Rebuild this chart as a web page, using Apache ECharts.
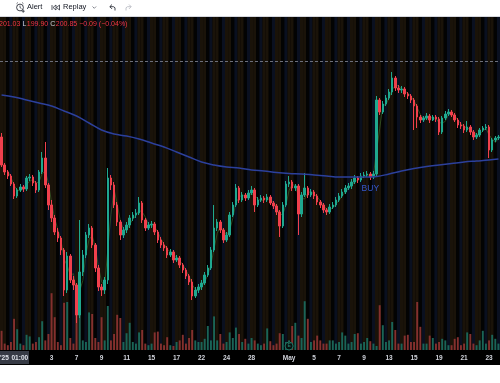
<!DOCTYPE html>
<html><head><meta charset="utf-8">
<script src="https://cdn.jsdelivr.net/npm/echarts@6/dist/echarts.min.js"></script>
<style>html,body{margin:0;padding:0;background:#fff;overflow:hidden}#c{width:500px;height:383px}</style>
</head><body><div id="c"></div><script>
// ---- data ----
const days = ['Mar 28','Mar 31','Apr 1','Apr 2','Apr 3','Apr 4','Apr 7','Apr 8','Apr 9','Apr 10',
  'Apr 11','Apr 14','Apr 15','Apr 16','Apr 17','Apr 21','Apr 22','Apr 23','Apr 24','Apr 25',
  'Apr 28','Apr 29','Apr 30','May 1','May 2','May 5','May 6','May 7','May 8','May 9',
  'May 12','May 13','May 14','May 15','May 16','May 19','May 20','May 21','May 22','May 23'];
const barHours = ['04:00','08:00','12:00','16:00'];
const barSessions = ['pre','pre','regular','post'];
const firstOpen = 196.2;
const closes = [
190.6,189.2,188.4,186.8, 184.4,185.6,186.2,185.8, 188.0,188.2,187.0,185.6, 189.2,192.0,186.6,182.6,
180.0,177.2,176.0,173.6, 165.6,172.4,167.6,166.6, 160.6,169.2,172.6,176.6, 178.0,174.6,170.0,166.2,
165.6,167.6,188.0,186.6, 182.6,179.2,176.6,177.6, 178.6,180.0,180.6,181.0, 183.0,179.6,178.0,178.6,
178.8,177.2,175.6,174.6, 174.0,172.6,173.2,171.6, 172.0,170.6,169.6,168.4, 167.2,164.4,165.6,166.2,
167.0,168.6,170.0,173.6, 178.0,179.2,177.6,175.6, 176.6,180.6,182.6,186.0, 183.6,184.6,184.0,185.0,
185.6,182.6,183.6,184.0, 183.6,184.2,183.0,182.4, 181.2,178.4,182.6,186.8, 187.2,186.0,186.4,180.8,
184.6,186.0,184.6,185.2, 184.4,183.2,182.6,181.6, 181.2,182.2,182.6,183.6, 184.4,185.2,186.0,186.4,
187.2,188.0,187.6,188.4, 188.6,188.8,188.2,188.8, 203.6,201.2,202.8,204.0, 205.2,208.0,206.0,205.6,
205.8,204.8,204.4,203.6, 202.4,200.2,199.6,200.0, 200.4,199.6,200.2,199.8, 197.2,200.0,200.8,201.2,
200.6,199.6,198.6,198.4, 197.6,198.2,197.2,196.2, 196.6,197.6,198.0,198.2, 193.6,195.6,196.0,196.2];
const highs = [
197.0,191.0,189.6,188.8, 187.2,186.0,186.8,186.6, 188.4,188.8,188.6,187.4, 189.6,193.2,195.2,187.0,
183.6,180.6,178.0,176.4, 174.0,173.2,172.8,168.4, 167.0,179.6,173.6,177.2, 178.8,178.4,175.0,170.6,
166.8,168.2,190.0,188.6, 187.2,183.2,179.6,178.2, 179.2,180.6,181.2,181.8, 184.2,183.4,180.0,179.2,
179.4,179.2,177.6,176.2, 175.2,174.4,173.8,173.6, 172.6,172.4,171.0,170.0, 168.8,167.8,166.2,166.8,
167.6,169.2,170.6,174.2, 182.6,179.8,179.6,178.0, 177.2,181.2,183.2,186.8, 186.4,185.2,185.0,185.6,
186.4,186.0,184.2,184.6, 184.4,184.8,184.6,183.4, 182.8,181.6,183.2,187.4, 188.4,187.6,186.8,186.8,
185.2,189.0,186.4,185.8, 185.6,184.8,183.6,183.0, 182.0,182.8,183.2,184.2, 185.0,185.8,186.6,187.0,
187.8,188.6,188.4,189.0, 189.2,189.4,189.2,189.4, 204.4,204.0,203.4,204.6, 205.8,209.2,208.4,206.6,
206.4,206.2,205.2,204.8, 204.0,202.8,200.6,200.4, 201.0,200.8,200.6,200.6, 200.2,200.4,201.4,201.8,
201.6,201.0,200.0,199.2, 198.8,199.4,198.6,197.6, 197.0,198.0,198.4,198.8, 198.6,196.0,196.4,196.6];
const lows = [
190.2,188.6,187.8,186.4, 183.8,184.0,185.2,185.2, 185.4,187.4,186.4,185.0, 185.2,188.8,186.0,181.6,
179.2,176.6,175.2,172.6, 164.4,165.0,167.0,165.6, 159.0,160.0,168.4,172.0, 176.0,174.0,169.2,165.4,
164.4,164.8,166.8,185.6, 182.0,178.4,175.6,176.0, 177.0,178.0,179.4,180.0, 180.6,179.0,177.4,177.6,
178.0,176.6,175.0,174.0, 173.4,172.0,172.2,171.0, 171.2,170.0,169.0,167.8, 166.6,163.6,164.0,165.0,
165.6,166.6,168.2,169.6, 173.2,177.4,177.0,175.0, 175.2,176.2,180.2,182.2, 183.0,183.2,183.4,183.6,
184.6,181.2,182.2,183.2, 183.0,183.2,182.6,181.8, 180.6,176.2,178.0,182.2, 186.2,185.4,185.4,176.6,
180.2,184.2,184.0,184.2, 183.8,182.6,182.0,181.0, 180.6,180.8,181.8,182.2, 183.2,184.0,184.8,185.6,
185.8,186.8,187.0,187.2, 188.0,188.2,187.6,187.8, 188.4,200.6,200.8,202.4, 203.6,204.6,205.4,205.0,
205.0,204.2,203.8,203.0, 197.6,198.0,199.0,199.2, 199.6,199.0,199.4,199.2, 196.6,196.8,199.6,200.4,
200.2,199.2,198.0,197.8, 197.0,197.2,196.6,195.6, 195.8,196.2,197.2,197.6, 192.0,193.2,195.2,195.6];
const volumes = [
24,8,6,10, 39,26,8,6, 19,17,8,10, 16,36,12,20, 71,41,10,6, 59,60,15,8, 58,55,12,10, 47,45,15,10,
41,12,55,12, 20,44,40,10, 21,34,10,8, 22,25,8,6, 8,22,23,8, 6,16,6,5, 10,12,19,8, 15,25,12,10,
10,14,30,12, 42,12,20,8, 10,22,15,28, 20,10,14,8, 15,12,8,6, 8,27,11,6, 8,21,20,10, 12,30,34,18,
15,61,39,10, 12,18,12,8, 8,12,12,8, 10,22,18,8, 10,20,21,8, 10,15,11,8, 5,56,31,10, 12,35,25,8,
8,18,19,10, 10,60,29,8, 8,18,15,8, 10,14,12,6, 6,14,16,6, 8,22,20,8, 6,12,24,8, 12,19,14,8];
const maDaily = [204.6,204.2,203.6,203.0,202.4,201.4,200.4,199.0,197.6,196.8,
  196.4,195.8,195.0,194.2,193.2,192.2,191.2,190.6,190.2,190.0,
  189.6,189.4,189.1,188.9,188.8,188.6,188.4,188.2,188.2,188.2,
  188.3,188.8,189.4,189.9,190.3,190.6,190.9,191.2,191.4,191.6];
const maLast = 191.8;
const dashedLevel = 211.4;
const tickDays = ['Apr 3','Apr 7','Apr 9','Apr 11','Apr 15','Apr 17','Apr 22','Apr 24','Apr 28',
  'May 1','May 5','May 7','May 9','May 13','May 15','May 19','May 21','May 23'];
const tickText = ['3','7','9','11','15','17','22','24','28','May','5','7','9','13','15','19','21','23'];
const buySignal = {day: 'May 9', hour: '12:00', price: 185.8, text: 'BUY'};
const earningsEvent = {day: 'May 1', hour: '04:00', text: 'E'};
const legendParts = [['201.03','v'],['L','k'],['199.90','v'],['C','k'],['200.85','v'],['\u22120.09 (\u22120.04%)','v']];
const crosshairText = ["'25", '01:00'];

// ---- build ----
const cats = [];
days.forEach(d => barHours.forEach(h => cats.push(d + ' ' + h)));
const opens = closes.map((c, i) => i === 0 ? firstOpen : closes[i - 1]);
const candles = closes.map((c, i) => [opens[i], c, lows[i], highs[i]]);
const UP = '#1fa88f', DOWN = '#f0404c';
const volData = volumes.map((v, i) => ({value: v, itemStyle: {color: closes[i] >= opens[i] ? '#1a6457' : '#84302e'}}));
const sessColor = {pre: '#1a1309', regular: '#030303', post: '#0a1020'};
const stripeData = cats.map((c, i) => ({value: 1, itemStyle: {color: sessColor[barSessions[i % 4]]}}));
const maData = new Array(cats.length).fill(null);
maDaily.forEach((v, d) => { maData[d * 4] = v; });
maData[cats.length - 1] = maLast;
const sma = closes.map((c, i) => i < 2 ? null : +((closes[i] + closes[i-1] + closes[i-2]) / 3).toFixed(2));
const labelMap = {};
tickDays.forEach((d, k) => { labelMap[days.indexOf(d) * 4] = tickText[k]; });

const chart = echarts.init(document.getElementById('c'), null, {renderer: 'canvas'});
const FONT = 'Liberation Sans, Arial, sans-serif';
let lx = -1;
const legendEls = [];
const ctx = document.createElement('canvas').getContext('2d');
ctx.font = '7px ' + FONT;
legendParts.forEach(([t, k]) => {
  legendEls.push({type: 'text', left: lx, top: 21, z: 50, style: {text: t, fill: k === 'v' ? '#f23645' : '#d1d4dc', font: '7px ' + FONT}});
  lx += ctx.measureText(t).width + (k === 'k' ? 0.5 : 2.0);
});

chart.setOption({
  animation: false,
  backgroundColor: '#ffffff',
  grid: [
    {left: 0, right: 0, top: 18, bottom: 33},
    {left: 0, right: 0, top: 270, bottom: 33},
    {left: 0, right: 0, top: 17, bottom: 33}
  ],
  xAxis: [
    {type: 'category', gridIndex: 0, data: cats, boundaryGap: true,
     axisLine: {show: false}, axisTick: {show: false}, splitLine: {show: false},
     axisLabel: {show: true, interval: (i) => labelMap.hasOwnProperty(i), formatter: (v, i) => labelMap[i] || '',
       color: '#d1d4dc', fontSize: 6.5, fontFamily: FONT, fontWeight: 'bold', margin: 5, hideOverlap: false}},
    {type: 'category', gridIndex: 1, data: cats, show: false},
    {type: 'category', gridIndex: 2, data: cats, show: false}
  ],
  yAxis: [
    {type: 'value', gridIndex: 0, min: 153.6, max: 220, show: false},
    {type: 'value', gridIndex: 1, min: 0, max: 100, show: false},
    {type: 'value', gridIndex: 2, min: 0, max: 1, show: false}
  ],
  series: [
    {type: 'bar', xAxisIndex: 2, yAxisIndex: 2, data: stripeData, barWidth: '100%', barCategoryGap: '0%', silent: true, z: 1},
    {type: 'bar', xAxisIndex: 1, yAxisIndex: 1, data: volData, barWidth: '62%', z: 2, silent: true,
     markPoint: {silent: true, data: [{coord: [earningsEvent.day + ' ' + earningsEvent.hour, 5], symbol: 'circle', symbolSize: 8,
       itemStyle: {color: '#06110f', borderColor: '#1f7565', borderWidth: 1},
       label: {show: true, formatter: earningsEvent.text, color: '#2a8a76', fontSize: 5, fontFamily: FONT, position: 'inside'}}]}},
    {type: 'line', xAxisIndex: 0, yAxisIndex: 0, data: sma, showSymbol: false, symbol: 'none',
     lineStyle: {color: '#3d6a2a', width: 0.8, opacity: 0.8}, z: 3, silent: true},
    {type: 'candlestick', xAxisIndex: 0, yAxisIndex: 0, data: candles, barWidth: '65%', z: 4,
     itemStyle: {color: UP, color0: DOWN, borderColor: UP, borderColor0: DOWN, borderWidth: 1},
     markLine: {silent: true, symbol: ['none', 'none'], label: {show: false},
       lineStyle: {type: [3, 2], color: '#6c6f7a', width: 1}, data: [{yAxis: dashedLevel}]},
     markPoint: {silent: true, data: [{coord: [buySignal.day + ' ' + buySignal.hour, buySignal.price], symbol: 'circle', symbolSize: 0,
       label: {show: true, formatter: buySignal.text, color: '#3658cc', fontSize: 8.5, fontFamily: FONT, position: 'inside'}}]}},
    {type: 'line', xAxisIndex: 0, yAxisIndex: 0, data: maData, connectNulls: true, smooth: 0.4, showSymbol: false, symbol: 'none',
     lineStyle: {color: '#2c409c', width: 1.5}, z: 5, silent: true}
  ],
  graphic: {elements: [
    {type: 'rect', z: -100, shape: {x: 0, y: 17, width: 500, height: 348}, style: {fill: '#000000'}},
    {type: 'line', z: 50, shape: {x1: 0, y1: 16.5, x2: 500, y2: 16.5}, style: {stroke: '#d6d8de', lineWidth: 1}},
    // crosshair time box
    {type: 'rect', z: 50, shape: {x: 0, y: 351, width: 29, height: 13}, style: {fill: '#363a45'}},
    {type: 'text', z: 51, left: 0, top: 354.5, style: {text: crosshairText[0], fill: '#e0e3eb', font: 'bold 6.5px ' + FONT}},
    {type: 'text', z: 51, left: 11.5, top: 354.5, style: {text: crosshairText[1], fill: '#e0e3eb', font: 'bold 6.5px ' + FONT}},
    // toolbar: alert icon
    {type: 'circle', z: 50, shape: {cx: 20, cy: 7.5, r: 3.4}, style: {fill: 'none', stroke: '#131722', lineWidth: 0.8}},
    {type: 'polyline', z: 50, shape: {points: [[20, 5.6], [20, 7.6], [21.4, 8.4]]}, style: {fill: 'none', stroke: '#131722', lineWidth: 0.7}},
    {type: 'line', z: 50, shape: {x1: 16.6, y1: 3.6, x2: 17.8, y2: 2.6}, style: {stroke: '#131722', lineWidth: 0.7}},
    {type: 'line', z: 50, shape: {x1: 23.4, y1: 3.6, x2: 22.2, y2: 2.6}, style: {stroke: '#131722', lineWidth: 0.7}},
    {type: 'line', z: 50, shape: {x1: 21.6, y1: 11.2, x2: 24.8, y2: 11.2}, style: {stroke: '#131722', lineWidth: 0.7}},
    {type: 'line', z: 50, shape: {x1: 23.2, y1: 9.6, x2: 23.2, y2: 12.8}, style: {stroke: '#131722', lineWidth: 0.7}},
    {type: 'text', z: 50, left: 27, top: 3, style: {text: 'Alert', fill: '#131722', font: '7.5px ' + FONT}},
    // replay icon
    {type: 'polygon', z: 50, shape: {points: [[56, 5], [56, 10], [53, 7.5]]}, style: {fill: 'none', stroke: '#131722', lineWidth: 0.7}},
    {type: 'polygon', z: 50, shape: {points: [[59.5, 5], [59.5, 10], [56.5, 7.5]]}, style: {fill: 'none', stroke: '#131722', lineWidth: 0.7}},
    {type: 'line', z: 50, shape: {x1: 52, y1: 5, x2: 52, y2: 10}, style: {stroke: '#131722', lineWidth: 0.7}},
    {type: 'text', z: 50, left: 63, top: 3, style: {text: 'Replay', fill: '#131722', font: '7.5px ' + FONT}},
    {type: 'polyline', z: 50, shape: {points: [[92.5, 6.5], [94.3, 8.3], [96.1, 6.5]]}, style: {fill: 'none', stroke: '#50535e', lineWidth: 0.7}},
    // undo / redo
    {type: 'polyline', z: 50, shape: {points: [[112, 4.5], [109.8, 6.7], [112, 8.9]]}, style: {fill: 'none', stroke: '#131722', lineWidth: 0.8}},
    {type: 'polyline', z: 50, shape: {points: [[110, 6.7], [113.5, 6.7], [115, 7.8], [115, 10.5]]}, style: {fill: 'none', stroke: '#131722', lineWidth: 0.8}},
    {type: 'polyline', z: 50, shape: {points: [[129, 4.5], [131.2, 6.7], [129, 8.9]]}, style: {fill: 'none', stroke: '#b2b5be', lineWidth: 0.8}},
    {type: 'polyline', z: 50, shape: {points: [[131, 6.7], [127.5, 6.7], [126, 7.8], [126, 10.5]]}, style: {fill: 'none', stroke: '#b2b5be', lineWidth: 0.8}}
  ].concat(legendEls)}
});
</script></body></html>
